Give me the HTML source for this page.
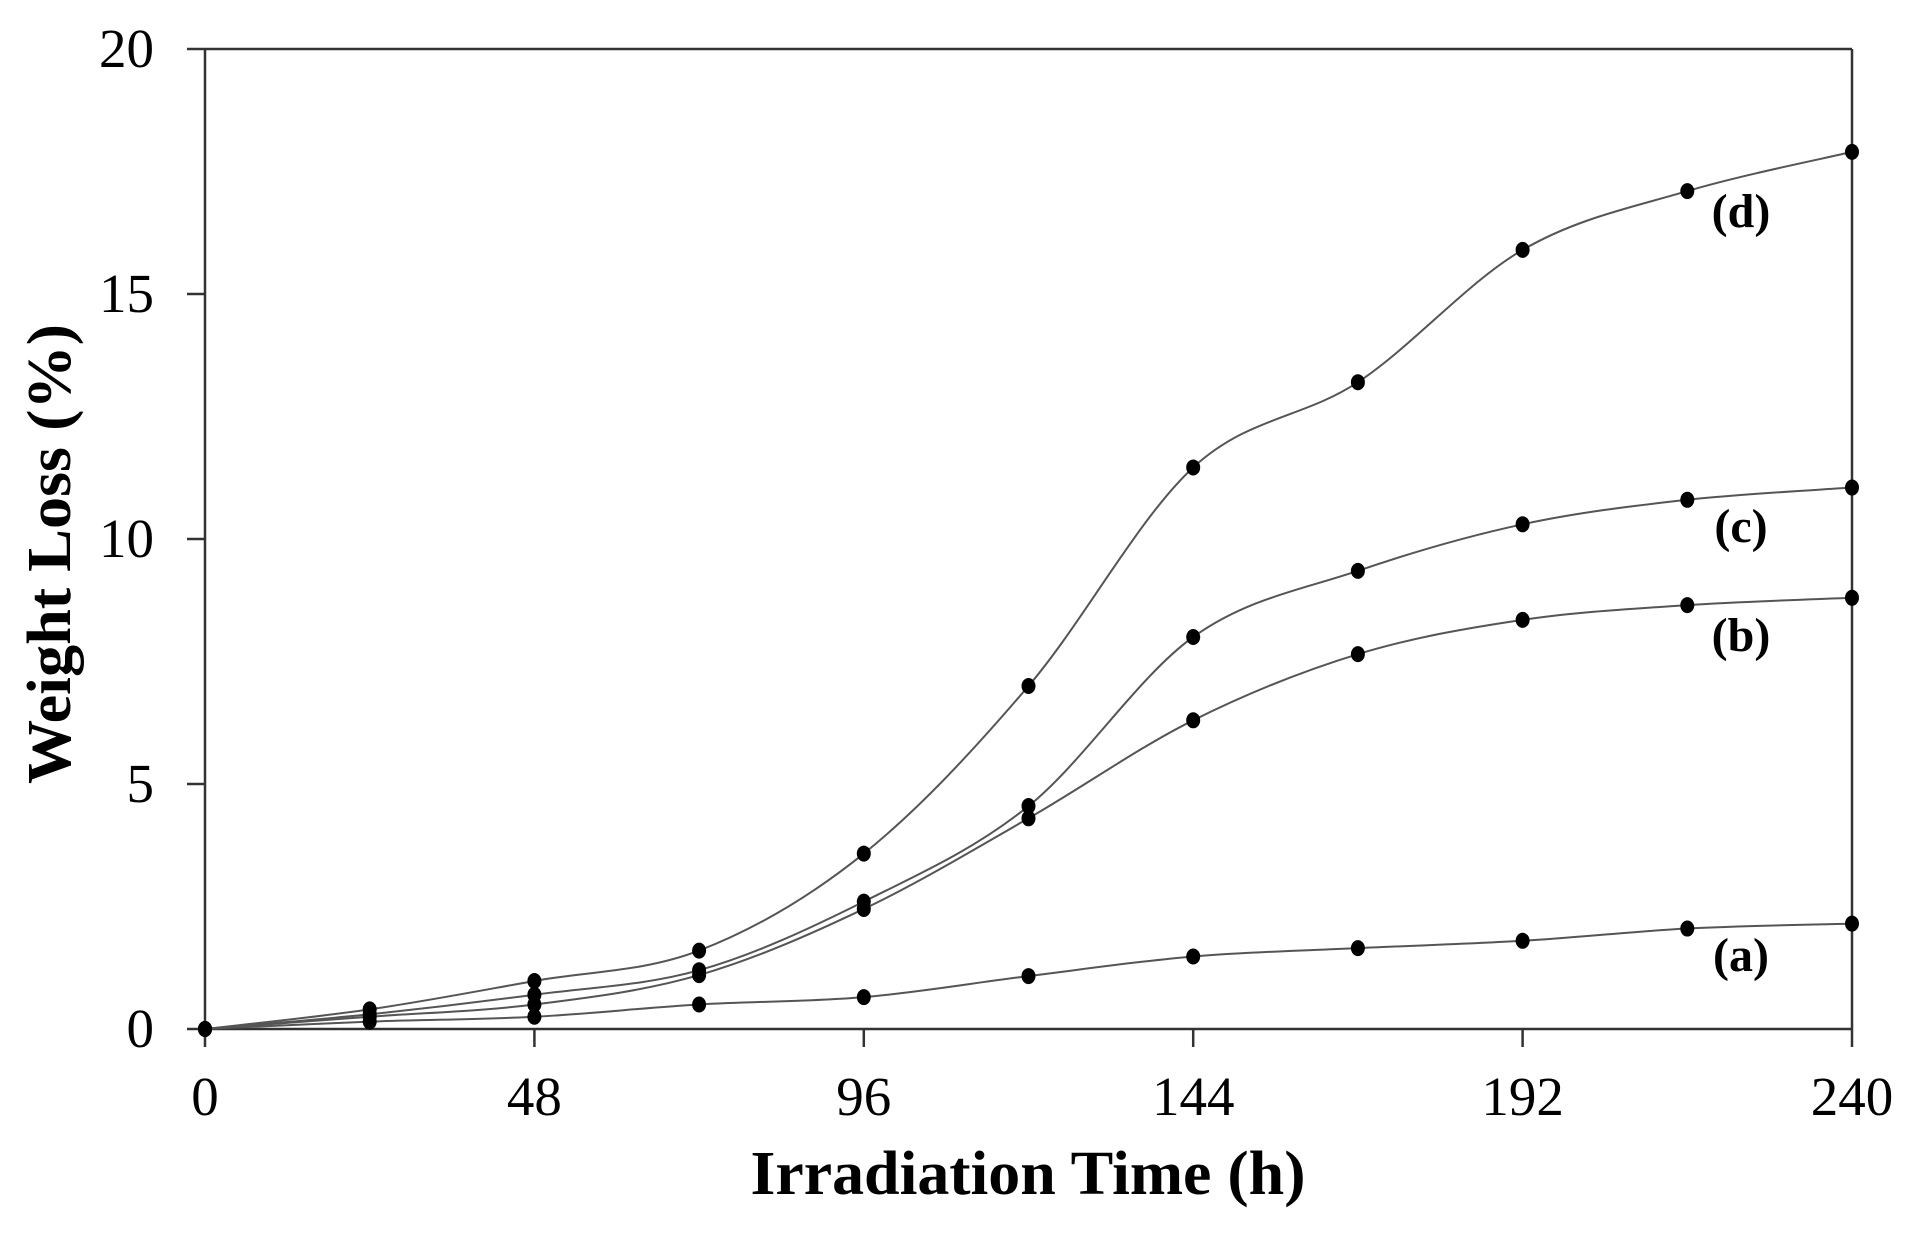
<!DOCTYPE html>
<html><head><meta charset="utf-8"><style>
html,body{margin:0;padding:0;background:#fff;}
svg{display:block;}
text{font-family:"Liberation Serif",serif;fill:#000;}
</style></head><body>
<svg id="s" width="1922" height="1233" viewBox="0 0 1922 1233" xmlns="http://www.w3.org/2000/svg">
<g stroke="#333" stroke-width="2.5" fill="none">
<line x1="205" y1="49" x2="205" y2="1047"/>
<line x1="187" y1="1029" x2="1852" y2="1029"/>
<line x1="187" y1="49" x2="1852" y2="49"/>
<line x1="1852" y1="49" x2="1852" y2="1047"/>
<line x1="187" y1="784" x2="205" y2="784"/>
<line x1="187" y1="539" x2="205" y2="539"/>
<line x1="187" y1="294" x2="205" y2="294"/>
<line x1="534.4" y1="1029" x2="534.4" y2="1047"/>
<line x1="863.8" y1="1029" x2="863.8" y2="1047"/>
<line x1="1193.2" y1="1029" x2="1193.2" y2="1047"/>
<line x1="1522.6" y1="1029" x2="1522.6" y2="1047"/>
</g>
<g font-size="55" text-anchor="end">
<text x="154" y="1047">0</text>
<text x="154" y="802">5</text>
<text x="154" y="557">10</text>
<text x="154" y="312">15</text>
<text x="154" y="67">20</text>
</g>
<g font-size="55" text-anchor="middle">
<text x="205" y="1115">0</text>
<text x="534.4" y="1115">48</text>
<text x="863.8" y="1115">96</text>
<text x="1193.2" y="1115">144</text>
<text x="1522.6" y="1115">192</text>
<text x="1852" y="1115">240</text>
</g>
<text x="1028" y="1194" font-size="62" font-weight="bold" text-anchor="middle" textLength="555" lengthAdjust="spacingAndGlyphs">Irradiation Time (h)</text>
<text transform="translate(70,554) rotate(-90)" font-size="62" font-weight="bold" text-anchor="middle" textLength="460" lengthAdjust="spacingAndGlyphs">Weight Loss (%)</text>
<g font-size="48" font-weight="bold" text-anchor="middle">
<text x="1741" y="227">(d)</text>
<text x="1741" y="542">(c)</text>
<text x="1741" y="651">(b)</text>
<text x="1741" y="971">(a)</text>
</g>
<g id="curves"></g>
</svg>
<script>
var T=[0,24,48,72,96,120,144,168,192,216,240];
var D=[
[0,0.15,0.25,0.5,0.65,1.08,1.48,1.65,1.8,2.05,2.15],
[0,0.25,0.5,1.1,2.45,4.3,6.3,7.65,8.35,8.65,8.8],
[0,0.3,0.7,1.2,2.6,4.55,8.0,9.35,10.3,10.8,11.05],
[0,0.4,0.98,1.6,3.58,7.0,11.46,13.2,15.9,17.1,17.9]];
function X(t){return 205+t*1647/240;}
function Y(v){return 1029-v*49;}
var g=document.getElementById('curves'),h="";
D.forEach(function(d){
 var p=T.map(function(t,i){return [X(t),Y(d[i])];});
 var s="M"+p[0][0]+","+p[0][1];
 for(var i=0;i<p.length-1;i++){
  var p0=p[Math.max(i-1,0)],p1=p[i],p2=p[i+1],p3=p[Math.min(i+2,p.length-1)];
  var c1=[p1[0]+(p2[0]-p0[0])/6,p1[1]+(p2[1]-p0[1])/6];
  var c2=[p2[0]-(p3[0]-p1[0])/6,p2[1]-(p3[1]-p1[1])/6];
  s+=" C"+c1[0]+","+c1[1]+" "+c2[0]+","+c2[1]+" "+p2[0]+","+p2[1];
 }
 h+='<path d="'+s+'" fill="none" stroke="#555" stroke-width="2"/>';
 p.forEach(function(q){h+='<ellipse cx="'+q[0]+'" cy="'+q[1]+'" rx="7" ry="8" fill="#000"/>';});
});
g.innerHTML=h;
</script>
</body></html>
